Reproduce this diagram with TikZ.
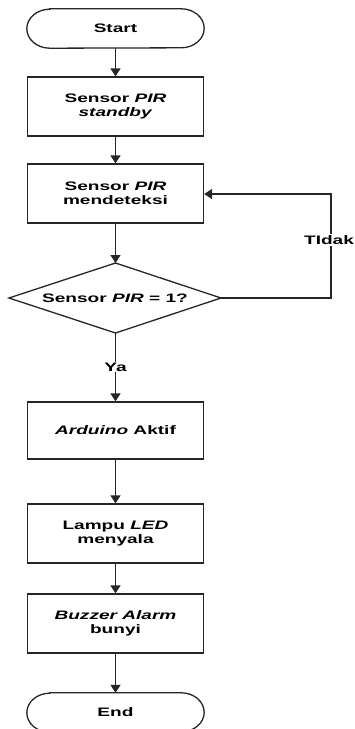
\documentclass[tikz,border=0pt]{standalone}
\usepackage{fontspec}
\setmainfont{Liberation Sans}[FakeStretch=1.55]
\usetikzlibrary{arrows.meta}
\tikzset{
  txt/.style={font=\fontsize{12.3}{13.5}\selectfont\bfseries},
  procbox/.style={txt, draw=black!85, line width=1.3pt, minimum width=176pt, minimum height=59pt, inner sep=0pt, align=center},
  termbox/.style={txt, minimum width=177pt, minimum height=39pt, inner sep=0pt},
  termline/.style={draw=black!85, line width=1.3pt},
  flow/.style={draw=black!85, line width=1.3pt, -{Triangle[width=10pt,length=8pt]}},
  plain/.style={draw=black!85, line width=1.3pt},
  lbl/.style={txt, fill=white, inner sep=1pt}
}
\begin{document}
\begin{tikzpicture}[x=1pt,y=1pt]
\useasboundingbox (0,0) rectangle (354,-729);
\fill[white] (0,0) rectangle (354,-729);

% terminals
\node[termbox] (start) at (115.5,-28.5) {Start};
\draw[termline] ([xshift=23pt]start.north west) -- ([xshift=-23pt]start.north east)
  arc[start angle=90,end angle=-90,x radius=23pt,y radius=19.5pt]
  -- ([xshift=23pt]start.south west)
  arc[start angle=270,end angle=90,x radius=23pt,y radius=19.5pt] -- cycle;

\node[termbox] (end) at (115.5,-712.5) {End};
\draw[termline] ([xshift=23pt]end.north west) -- ([xshift=-23pt]end.north east)
  arc[start angle=90,end angle=-90,x radius=23pt,y radius=19.5pt]
  -- ([xshift=23pt]end.south west)
  arc[start angle=270,end angle=90,x radius=23pt,y radius=19.5pt] -- cycle;

% process boxes
\node[procbox] (b1) at (115.5,-106.5) {Sensor \textit{PIR}\\\textit{standby}};
\node[procbox] (b2) at (115.5,-193.5) {Sensor \textit{PIR}\\mendeteksi};
\node[procbox, minimum height=57pt] (b3) at (115.5,-430.5) {\textit{Arduino} Aktif};
\node[procbox] (b4) at (115.5,-533.5) {Lampu \textit{LED}\\menyala};
\node[procbox] (b5) at (115.5,-623.5) {\textit{Buzzer Alarm}\\bunyi};

% decision
\node[txt, inner sep=0pt] (d) at (115,-298) {Sensor \textit{PIR} = 1?};
\coordinate (dt) at (115.5,-263);
\coordinate (db) at (115.5,-333);
\coordinate (dl) at (9,-298);
\coordinate (dr) at (221,-298);
\draw[plain] (dl) -- (dt) -- (dr) -- (db) -- cycle;

\coordinate (c1) at (331,-298);
\coordinate (c2) at (331,-194);

% connectors
\draw[flow] (start) -- (b1);
\draw[flow] (b1) -- (b2);
\draw[flow] (b2) -- (dt);
\draw[flow] (db) -- (b3);
\draw[flow] (b3) -- (b4);
\draw[flow] (b4) -- (b5);
\draw[flow] (b5) -- (end);
\draw[flow] (dr) -- (c1) -- (c2) -- (b2.east |- c2);

% labels
\node[lbl] (ya) at (115.5,-367) {Ya};
\node[lbl] (tidak) at (329,-240) {TIdak};
\end{tikzpicture}
\end{document}
